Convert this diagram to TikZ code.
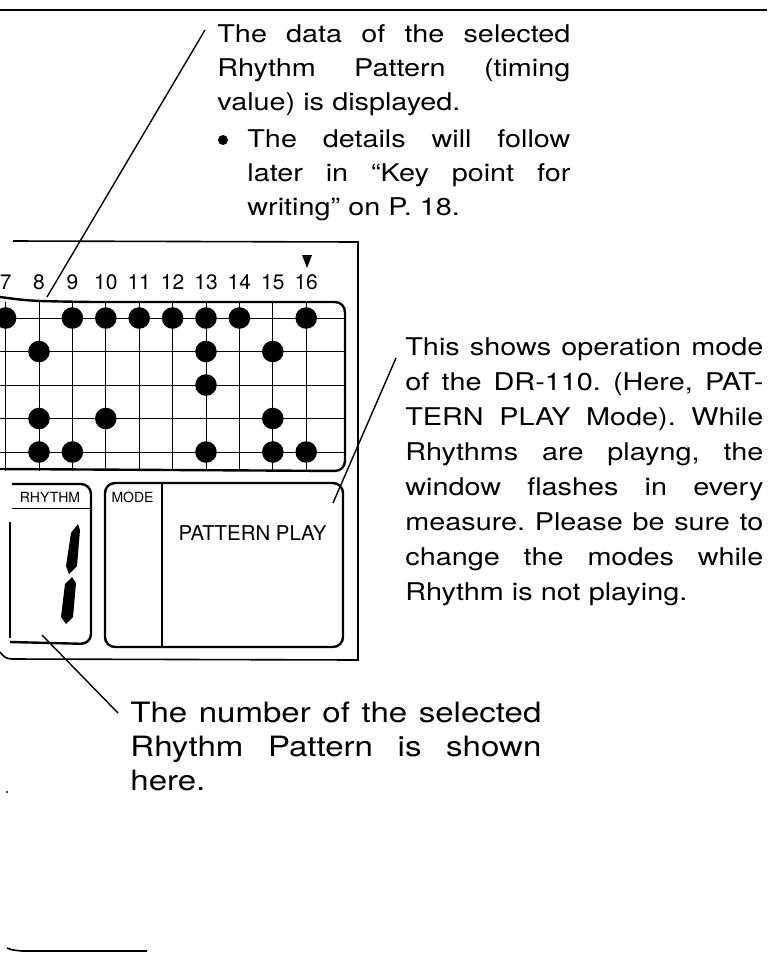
\documentclass[tikz,border=0pt]{standalone}
\usepackage{fontspec}
\setmainfont[FakeStretch=1.18]{TeX Gyre Heros}
\newfontfamily\panelfont{TeX Gyre Heros}
\newcommand\jline[1]{\makebox[\linewidth][s]{\spaceskip=\fontdimen2\font plus 1fil\relax #1}}
\frenchspacing
\tikzset{
    leader/.style={line width=0.7pt},
    frame/.style={line width=0.8pt},
    lcd/.style={line width=1.2pt, rounded corners=5pt},
    gridline/.style={line width=0.5pt},
    beat/.style={fill=black},
    note/.style={inner sep=0pt, anchor=base west, font=\fontsize{12.2}{17}\selectfont},
    panellabel/.style={inner sep=0pt, anchor=base, font=\panelfont\fontsize{7}{8}\selectfont},
}
\begin{document}
\begin{tikzpicture}[x=0.5pt, y=-0.5pt]
    \useasboundingbox (0,0) rectangle (767,954);
    \clip (0,0) rectangle (767,954);
    % Page rule
    \draw[line width=0.9pt] (0,10) -- (767,10);
    % Display panel
    \draw[frame] (13,241) -- (358,242) -- (358,660) -- (12,659) .. controls (6,659) and (3,656) .. (0,652);
    % Step numbers
    \foreach \c in {7,...,16}
        \node[panellabel, font=\panelfont\fontsize{10.5}{12}\selectfont] (n\c) at ({39+(\c-8)*33.4},289) {\c};
    \fill (302,255) -- (312,255) -- (307,268) -- cycle;
    % Pattern grid
    \foreach \c in {7,...,16}
        \draw[gridline] ({39+(\c-8)*33.4},302) -- ({39+(\c-8)*33.4},471);
    \foreach \r in {0,...,4}
        \draw[gridline] (0,{318+\r*33.5}) -- (345,{318+\r*33.5});
    \draw[lcd] (0,297) .. controls (30,301) .. (90,302) -- (345,302) -- (345,471) -- (0,469);
    % Row 1
    \fill[beat] (5.6,318) circle (5.4pt);
    \fill[beat] (72.4,318) circle (5.4pt);
    \fill[beat] (105.8,318) circle (5.4pt);
    \fill[beat] (139.2,318) circle (5.4pt);
    \fill[beat] (172.6,318) circle (5.4pt);
    \fill[beat] (206,318) circle (5.4pt);
    \fill[beat] (239.4,318) circle (5.4pt);
    \fill[beat] (306.2,318) circle (5.4pt);
    % Row 2
    \fill[beat] (39,351.5) circle (5.4pt);
    \fill[beat] (206,351.5) circle (5.4pt);
    \fill[beat] (272.8,351.5) circle (5.4pt);
    % Row 3
    \fill[beat] (206,385) circle (5.4pt);
    % Row 4
    \fill[beat] (39,418.5) circle (5.4pt);
    \fill[beat] (105.8,418.5) circle (5.4pt);
    \fill[beat] (272.8,418.5) circle (5.4pt);
    % Row 5
    \fill[beat] (39,452) circle (5.4pt);
    \fill[beat] (72.4,452) circle (5.4pt);
    \fill[beat] (206,452) circle (5.4pt);
    \fill[beat] (272.8,452) circle (5.4pt);
    \fill[beat] (306.2,452) circle (5.4pt);
    % Rhythm window
    \draw[lcd] (12,484) -- (91,484) -- (91,644) -- (10,642);
    \draw[gridline] (12,508) -- (91,508);
    \draw[frame] (10,522) -- (10,638);
    \node[panellabel] (rhythmLabel) at (50,502) {RHYTHM};
    \fill (71,533) -- (78,524) -- (80,530) -- (77,566) -- (69,574) -- (66,566) -- cycle;
    \fill (65,584) -- (72,577) -- (76,583) -- (73,617) -- (66,624) -- (61,617) -- cycle;
    % Mode window
    \draw[lcd] (105,483) rectangle (343,647);
    \draw[line width=1pt] (162,483) -- (162,647);
    \node[panellabel] (modeLabel) at (132.5,502) {MODE};
    \node[panellabel, font=\panelfont\fontsize{10.2}{12}\selectfont] (modeValue) at (252.5,540) {PATTERN PLAY};
    % Notes
    \node[note, text width=176.5pt] (dataText) at (217,42)
        {\jline{The data of the selected}\\ \jline{Rhythm Pattern (timing}\\ value) is displayed.};
    \fill (223,140) circle (2.5pt);
    \node[note, text width=161.5pt] (dataNote) at (247,147)
        {\jline{The details will follow}\\ \jline{later in ``Key point for}\\ writing'' on P. 18.};
    \node[note, font=\fontsize{12.2}{17.5}\selectfont, text width=179pt] (modeText) at (405,355)
        {\jline{This shows operation mode}\\ \jline{of the DR-110. (Here, PAT-}\\
         \jline{TERN PLAY Mode). While}\\ \jline{Rhythms are playng, the}\\
         \jline{window flashes in every}\\ \jline{measure. Please be sure to}\\
         \jline{change the modes while}\\ Rhythm is not playing.};
    \node[note, font=\fontsize{14}{17}\selectfont, text width=205.5pt] (numText) at (130,722)
        {\jline{The number of the selected}\\ \jline{Rhythm Pattern is shown}\\ here.};
    % Leaders
    \coordinate (gridTip) at (47,297);
    \coordinate (modeTip) at (333,503);
    \coordinate (rhythmTip) at (42,635);
    \draw[leader] ([shift={(-12,-12)}]dataText.base west) -- (gridTip);
    \draw[leader] ([shift={(-9,3)}]modeText.base west) -- (modeTip);
    \draw[leader] (rhythmTip) -- ([shift={(-12,-9)}]numText.base west);
    % Scan marks
    \fill (7,792) circle (0.6pt);
    \draw[frame] (7,948) .. controls (12,950) .. (22,951) -- (147,951);
\end{tikzpicture}
\end{document}
